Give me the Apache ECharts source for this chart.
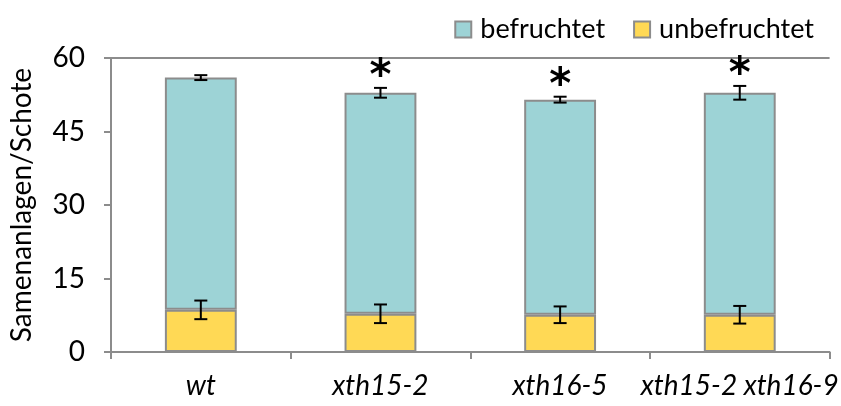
<!DOCTYPE html>
<html>
<head>
<meta charset="utf-8">
<script src="https://cdn.jsdelivr.net/npm/echarts@6/dist/echarts.min.js"></script>
<style>
  html, body { margin: 0; padding: 0; background: #fff; }
  #chart { width: 841px; height: 406px; }
</style>
</head>
<body>
<div id="chart"></div>
<script>
// Genotypes on the x axis
const genotypes = ['wt', 'xth15-2', 'xth16-5', 'xth15-2 xth16-9'];
// Mean ovules per silique (total) and unfertilised share
const totalMean = [56.0, 52.9, 51.5, 52.9];
const totalErr = [0.5, 1.0, 0.6, 1.4];
const unfertMean = [8.6, 7.8, 7.6, 7.6];
const unfertErr = [1.9, 1.9, 1.7, 1.8];
// Significance markers above each bar
const signif = ['', '*', '*', '*'];
// Y axis ticks
const yTicks = { min: 0, max: 60, step: 15 };

const fertMean = totalMean.map((t, i) => +(t - unfertMean[i]).toFixed(2));

const FONT = 'Lato, "Open Sans", sans-serif';
const GRAY = '#8c8c8c';
const FS = 28;

const chart = echarts.init(document.getElementById('chart'), null, { renderer: 'canvas' });

function errorItem(params, api) {
  const x = api.value(0);
  const mean = api.value(1);
  const err = api.value(2);
  const mark = signif[params.dataIndex];
  const lo = api.coord([x, mean - err]);
  const hi = api.coord([x, mean + err]);
  const cx = lo[0];
  const cap = 6.5;
  const st = { stroke: '#000', lineWidth: 2 };
  const children = [
    { type: 'line', shape: { x1: cx, y1: lo[1], x2: cx, y2: hi[1] }, style: st },
    { type: 'line', shape: { x1: cx - cap, y1: lo[1], x2: cx + cap, y2: lo[1] }, style: st },
    { type: 'line', shape: { x1: cx - cap, y1: hi[1], x2: cx + cap, y2: hi[1] }, style: st }
  ];
  if (api.value(3) && mark) {
    children.push({
      type: 'text',
      style: {
        text: mark, x: cx, y: hi[1] - 10,
        align: 'center', verticalAlign: 'middle',
        font: 'bold 42px "DejaVu Sans", sans-serif', fill: '#000'
      }
    });
  }
  return { type: 'group', children };
}

chart.setOption({
  animation: false,
  backgroundColor: '#fff',
  textStyle: { fontFamily: FONT },
  grid: { left: 110, right: 7, top: 58, bottom: 54 },
  legend: {
    data: ['befruchtet', 'unbefruchtet'],
    right: 22, top: 11,
    itemWidth: 16, itemHeight: 16, itemGap: 28,
    icon: 'rect',
    textStyle: { fontFamily: FONT, fontSize: 27, color: '#000', padding: [0, 0, 0, 4] }
  },
  xAxis: {
    type: 'category',
    data: genotypes,
    axisLine: { lineStyle: { color: GRAY, width: 2 } },
    axisTick: { show: true, length: 7, lineStyle: { color: GRAY, width: 2 } },
    axisLabel: { interval: 0, fontFamily: FONT, fontSize: FS, fontStyle: 'italic', color: '#000', margin: 20 }
  },
  yAxis: {
    type: 'value',
    min: yTicks.min, max: yTicks.max, interval: yTicks.step,
    name: 'Samenanlagen/Schote',
    nameLocation: 'middle', nameGap: 75,
    nameTextStyle: { fontFamily: FONT, fontSize: FS, color: '#000' },
    axisLine: { show: true, lineStyle: { color: GRAY, width: 2 } },
    axisTick: { show: true, length: 7, lineStyle: { color: GRAY, width: 2 } },
    axisLabel: { fontFamily: FONT, fontSize: FS, color: '#000', margin: 26 },
    splitLine: { show: true, lineStyle: { color: ['transparent', 'transparent', 'transparent', 'transparent', GRAY], width: 2 } }
  },
  series: [
    {
      name: 'unbefruchtet', type: 'bar', stack: 'ov',
      data: unfertMean, barWidth: '40%',
      itemStyle: { color: '#FFD955', borderColor: GRAY, borderWidth: 2 }
    },
    {
      name: 'befruchtet', type: 'bar', stack: 'ov',
      data: fertMean, barWidth: '40%',
      itemStyle: { color: '#9DD3D6', borderColor: GRAY, borderWidth: 2 }
    },
    {
      type: 'custom', name: 'errUnfert', renderItem: errorItem, z: 10,
      data: unfertMean.map((m, i) => [i, m, unfertErr[i], 0])
    },
    {
      type: 'custom', name: 'errTotal', renderItem: errorItem, z: 10,
      data: totalMean.map((m, i) => [i, m, totalErr[i], 1])
    }
  ]
});
</script>
</body>
</html>
